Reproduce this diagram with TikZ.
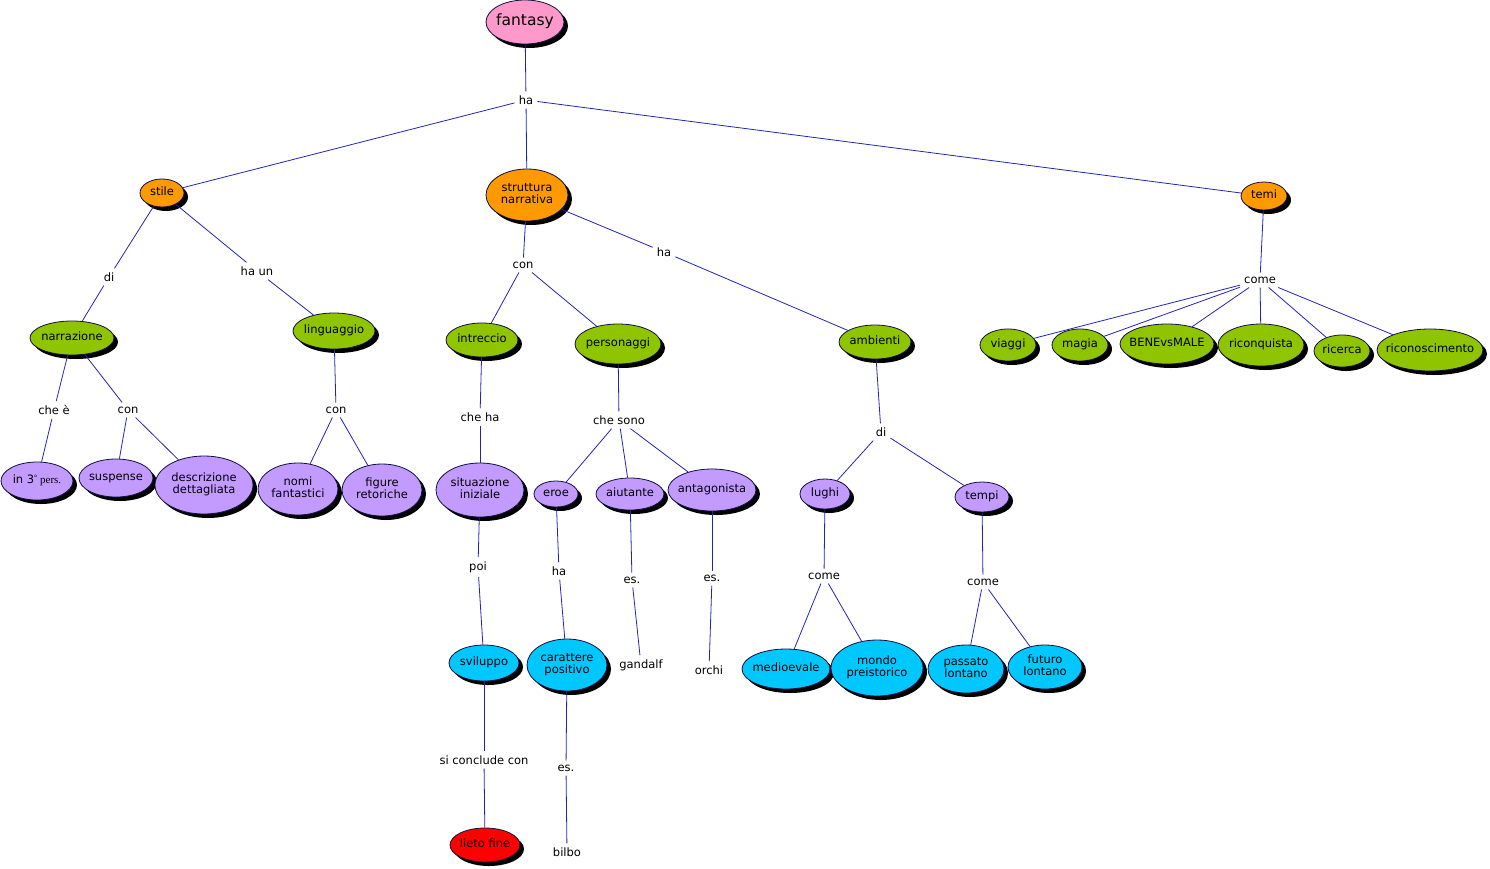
\documentclass[tikz,border=0pt]{standalone}
\usepackage{fontspec}
\setmainfont{DejaVu Sans}
\newfontfamily\serifx{Liberation Serif}
\usetikzlibrary{shapes.geometric,shadows}
\definecolor{cpink}{HTML}{FF99CC}
\definecolor{corange}{HTML}{FF9900}
\definecolor{cgreen}{HTML}{8FC400}
\definecolor{cpurple}{HTML}{C39BFF}
\definecolor{ccyan}{HTML}{00C8FF}
\definecolor{cred}{HTML}{FF0000}
\definecolor{cline}{HTML}{2424B4}
\definecolor{cborder}{HTML}{101040}
\newcommand\ctext[1]{\makebox[0pt]{\renewcommand\arraystretch{0.92}\begin{tabular}{@{}c@{}}#1\end{tabular}}}
\begin{document}
\begin{tikzpicture}[x=1pt,y=-1pt,
  concept/.style={ellipse,draw=cborder,line width=0.8pt,inner sep=0pt,
    font=\fontsize{11.5}{12.5}\selectfont,
    drop shadow={shadow xshift=4pt,shadow yshift=-4pt,fill=black,opacity=1}},
  lab/.style={inner sep=4pt,font=\fontsize{11.5}{12.5}\selectfont},
  link/.style={draw=cline,line width=0.8pt},
  sz/.style 2 args={minimum width=#1pt,minimum height=#2pt}]
\useasboundingbox (0,0) rectangle (1490,868);
% concepts
\node[concept,fill=cpink,sz={78}{44},font=\fontsize{15.5}{17}\selectfont] (fantasy) at (525,22) {\ctext{fantasy}};
\node[concept,fill=corange,sz={44}{28}] (stile) at (162,193) {\ctext{stile}};
\node[concept,fill=corange,sz={82}{52}] (strutt) at (527,195) {\ctext{struttura\\narrativa}};
\node[concept,fill=corange,sz={46}{28}] (temi) at (1264,196) {\ctext{temi}};
\node[concept,fill=cgreen,sz={84}{34}] (narr) at (72,338) {\ctext{narrazione}};
\node[concept,fill=cgreen,sz={82}{36}] (ling) at (334,331) {\ctext{linguaggio}};
\node[concept,fill=cpurple,sz={72}{38}] (in3) at (37,481) {\ctext{in 3{\serifx\fontsize{11}{12}\selectfont\raisebox{3pt}{\fontsize{8}{9}\selectfont\textdegree} pers.}}};
\node[concept,fill=cpurple,sz={74}{38}] (susp) at (116,478) {\ctext{suspense}};
\node[concept,fill=cpurple,sz={98}{58}] (descr) at (204,485) {\ctext{descrizione\\dettagliata}};
\node[concept,fill=cpurple,sz={80}{52}] (nomi) at (298,489) {\ctext{nomi\\fantastici}};
\node[concept,fill=cpurple,sz={80}{52}] (figure) at (382,490) {\ctext{figure\\retoriche}};
\node[concept,fill=cgreen,sz={72}{34}] (intr) at (482,340) {\ctext{intreccio}};
\node[concept,fill=cgreen,sz={86}{40}] (pers) at (618,344) {\ctext{personaggi}};
\node[concept,fill=cgreen,sz={72}{34}] (amb) at (875,342) {\ctext{ambienti}};
\node[concept,fill=cpurple,sz={88}{54}] (sit) at (480,490) {\ctext{situazione\\iniziale}};
\node[concept,fill=ccyan,sz={70}{36}] (svil) at (484,663) {\ctext{sviluppo}};
\node[concept,fill=cred,sz={70}{34}] (lieto) at (485,845) {\ctext{lieto fine}};
\node[concept,fill=cpurple,sz={44}{26}] (eroe) at (556,494) {\ctext{eroe}};
\node[concept,fill=cpurple,sz={68}{32}] (aiut) at (630,494) {\ctext{aiutante}};
\node[concept,fill=cpurple,sz={88}{42}] (antag) at (712,490) {\ctext{antagonista}};
\node[concept,fill=ccyan,sz={80}{52}] (carat) at (567,665) {\ctext{carattere\\positivo}};
\node[concept,fill=cpurple,sz={50}{30}] (lughi) at (825,494) {\ctext{lughi}};
\node[concept,fill=cpurple,sz={54}{30}] (tempi) at (982,497) {\ctext{tempi}};
\node[concept,fill=ccyan,sz={88}{40}] (medio) at (786,669) {\ctext{medioevale}};
\node[concept,fill=ccyan,sz={92}{56}] (mondo) at (877,668) {\ctext{mondo\\preistorico}};
\node[concept,fill=ccyan,sz={76}{48}] (passato) at (966,669) {\ctext{passato\\lontano}};
\node[concept,fill=ccyan,sz={74}{44}] (futuro) at (1045,667) {\ctext{futuro\\lontano}};
\node[concept,fill=cgreen,sz={56}{32}] (viaggi) at (1008,345) {\ctext{viaggi}};
\node[concept,fill=cgreen,sz={56}{32}] (magia) at (1080,345) {\ctext{magia}};
\node[concept,fill=cgreen,sz={94}{40}] (bene) at (1167,344) {\ctext{BENEvsMALE}};
\node[concept,fill=cgreen,sz={86}{42}] (ricon) at (1261,345) {\ctext{riconquista}};
\node[concept,fill=cgreen,sz={56}{32}] (ricerca) at (1342,351) {\ctext{ricerca}};
\node[concept,fill=cgreen,sz={106}{42}] (riconos) at (1430,350) {\ctext{riconoscimento}};
% linking phrases
\node[lab] (ha1) at (526,100) {ha};
\node[lab] (di1) at (109,277) {di};
\node[lab] (haun) at (257,271) {ha un};
\node[lab] (chee) at (54,410) {che è};
\node[lab] (con1) at (128,410) {con};
\node[lab] (con2) at (336,410) {con};
\node[lab] (con3) at (523,265) {con};
\node[lab] (ha2) at (664,252) {ha};
\node[lab] (cheha) at (480,417) {che ha};
\node[lab] (poi) at (478,567) {poi};
\node[lab] (sicon) at (484,760) {si conclude con};
\node[lab] (chesono) at (619,420) {che sono};
\node[lab] (ha3) at (559,571) {ha};
\node[lab] (es1) at (566,768) {es.};
\node[lab] (bilbo) at (567,852) {bilbo};
\node[lab] (es2) at (632,580) {es.};
\node[lab] (gandalf) at (641,665) {gandalf};
\node[lab] (es3) at (712,578) {es.};
\node[lab] (orchi) at (709,670) {orchi};
\node[lab] (di2) at (881,432) {di};
\node[lab] (come1) at (824,576) {come};
\node[lab] (come2) at (983,582) {come};
\node[lab] (come3) at (1260,280) {come};
% links
\path[link] (fantasy) -- (ha1);
\path[link] (ha1) -- (stile);
\path[link] (ha1) -- (strutt);
\path[link] (ha1) -- (temi);
\path[link] (stile) -- (di1);
\path[link] (stile) -- (haun);
\path[link] (di1) -- (narr);
\path[link] (haun) -- (ling);
\path[link] (narr) -- (chee);
\path[link] (narr) -- (con1);
\path[link] (chee) -- (in3);
\path[link] (con1) -- (susp);
\path[link] (con1) -- (descr);
\path[link] (ling) -- (con2);
\path[link] (con2) -- (nomi);
\path[link] (con2) -- (figure);
\path[link] (strutt) -- (con3);
\path[link] (strutt) -- (ha2);
\path[link] (con3) -- (intr);
\path[link] (con3) -- (pers);
\path[link] (ha2) -- (amb);
\path[link] (intr) -- (cheha);
\path[link] (cheha) -- (sit);
\path[link] (sit) -- (poi);
\path[link] (poi) -- (svil);
\path[link] (svil) -- (sicon);
\path[link] (sicon) -- (lieto);
\path[link] (pers) -- (chesono);
\path[link] (chesono) -- (eroe);
\path[link] (chesono) -- (aiut);
\path[link] (chesono) -- (antag);
\path[link] (eroe) -- (ha3);
\path[link] (ha3) -- (carat);
\path[link] (carat) -- (es1);
\path[link] (es1) -- (bilbo);
\path[link] (aiut) -- (es2);
\path[link] (es2) -- (gandalf);
\path[link] (antag) -- (es3);
\path[link] (es3) -- (orchi);
\path[link] (amb) -- (di2);
\path[link] (di2) -- (lughi);
\path[link] (di2) -- (tempi);
\path[link] (lughi) -- (come1);
\path[link] (come1) -- (medio);
\path[link] (come1) -- (mondo);
\path[link] (tempi) -- (come2);
\path[link] (come2) -- (passato);
\path[link] (come2) -- (futuro);
\path[link] (temi) -- (come3);
\path[link] (come3) -- (viaggi);
\path[link] (come3) -- (magia);
\path[link] (come3) -- (bene);
\path[link] (come3) -- (ricon);
\path[link] (come3) -- (ricerca);
\path[link] (come3) -- (riconos);
\end{tikzpicture}
\end{document}
